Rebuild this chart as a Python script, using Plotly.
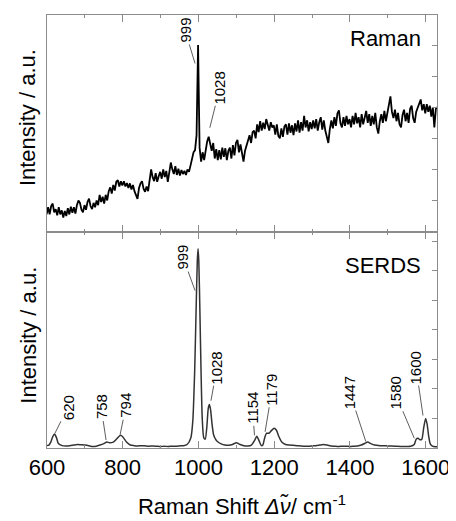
import numpy as np
import plotly.graph_objects as go
from plotly.subplots import make_subplots

raman_shift = list(range(599, 1632, 4))
raman_int = [
    0.55, 0.78, 0.55, 0.82, 0.90, 0.62, 0.72, 0.52, 0.78, 0.55, 0.68, 0.45, 0.66,
    0.50, 0.75, 0.55, 0.80, 0.60, 0.78, 0.58, 0.85, 1.00, 0.92, 0.70, 0.62,
    0.85, 0.70, 0.95, 1.06, 0.82, 0.72, 0.92, 0.78, 1.00, 0.85, 1.18, 0.95, 1.12,
    0.90, 1.18, 1.00, 1.30, 1.42, 1.22, 1.50, 1.32, 1.60, 1.65, 1.45, 1.62,
    1.48, 1.62, 1.45, 1.56, 1.40, 1.55, 1.35, 1.50, 1.30, 1.18, 1.05, 1.40, 1.55,
    1.62, 1.38, 1.28, 1.45, 1.30, 1.75, 2.00, 1.75, 1.62, 1.88, 1.60, 1.78,
    1.92, 1.70, 2.00, 1.75, 1.95, 1.60, 1.85, 2.22, 2.00, 1.85, 2.10, 1.82, 2.02,
    1.80, 1.98, 1.85, 1.95, 1.82, 2.00, 1.92, 2.12, 2.30, 2.55, 2.62, 3.10,
    6.00, 2.70, 2.25, 2.55, 2.30, 2.65, 2.90, 3.05, 2.80, 2.60, 2.85, 2.35, 2.65,
    2.30, 2.62, 2.32, 2.70, 2.40, 2.68, 2.30, 2.60, 2.70, 2.35, 2.78, 2.45,
    2.85, 2.95, 2.55, 2.80, 2.45, 2.25, 2.60, 2.75, 2.95, 3.10, 2.85, 3.20, 3.25,
    3.00, 3.45, 3.20, 3.55, 3.25, 3.50, 3.30, 3.62, 3.45, 3.25, 3.52, 3.35,
    3.42, 3.12, 3.45, 3.08, 3.00, 3.32, 3.05, 3.38, 3.45, 3.12, 3.48, 3.18, 3.42,
    3.10, 3.48, 3.22, 3.58, 3.18, 3.52, 3.25, 3.72, 3.35, 3.58, 3.22, 3.52,
    3.30, 3.58, 3.32, 3.62, 3.25, 3.52, 3.68, 3.28, 3.58, 3.25, 3.05, 2.85, 3.30,
    3.58, 3.32, 3.68, 3.40, 3.80, 3.90, 3.48, 3.35, 3.68, 3.40, 3.72, 3.45,
    3.62, 3.35, 3.72, 3.45, 3.82, 3.48, 3.68, 3.35, 3.78, 3.45, 3.72, 3.88, 3.50,
    3.78, 3.40, 3.72, 3.45, 3.82, 3.35, 3.15, 3.55, 3.78, 3.50, 3.88, 3.55,
    3.82, 4.05, 4.35, 3.85, 3.65, 3.92, 3.55, 3.82, 3.45, 3.35, 3.75, 3.92, 3.55,
    3.82, 3.50, 3.95, 4.05, 3.65, 3.50, 3.85, 4.00, 4.15, 4.25, 3.90, 4.10,
    3.80, 4.10, 3.85, 4.05, 3.70, 4.00, 3.35, 3.95, 4.00,
]

# SERDS spectrum
serds_shift = [
    600, 605, 610, 615, 620, 625, 630, 640, 650, 660, 670, 680, 690, 700, 710,
    720, 730, 740, 750, 758, 765, 775, 785, 794, 800, 810, 820, 830, 840, 850,
    860, 870, 880, 890, 900, 910, 920, 930, 940, 950, 960, 970, 980, 985, 990,
    994, 997, 999, 1001, 1004, 1007, 1010, 1014, 1018, 1022, 1026, 1029, 1032,
    1036, 1040, 1045, 1050, 1060, 1070, 1080, 1090, 1100, 1110, 1120, 1130,
    1140, 1148, 1154, 1160, 1166, 1170, 1175, 1180, 1186, 1192, 1200, 1206,
    1212, 1220, 1230, 1240, 1250, 1260, 1270, 1280, 1290, 1300, 1310, 1320,
    1330, 1340, 1350, 1360, 1370, 1380, 1390, 1400, 1410, 1420, 1430, 1440,
    1447, 1455, 1465, 1480, 1500, 1520, 1540, 1560, 1570, 1575, 1580, 1585,
    1590, 1595, 1600, 1604, 1608, 1612, 1618, 1625, 1630,
]
serds_int = [
    0.08, 0.10, 0.20, 0.38, 0.47, 0.35, 0.15, 0.08, 0.07, 0.08, 0.10, 0.12, 0.11,
    0.10, 0.08, 0.05, 0.06, 0.10, 0.15, 0.20, 0.18, 0.20, 0.32, 0.43, 0.38, 0.20,
    0.10, 0.08, 0.07, 0.08, 0.07, 0.06, 0.07, 0.06, 0.05, 0.06, 0.05, 0.06, 0.06,
    0.07, 0.08, 0.12, 0.35, 0.90, 2.60, 4.80, 6.35, 6.75, 6.30, 4.50, 2.50, 1.00,
    0.35, 0.30, 0.70, 1.35, 1.47, 1.30, 0.80, 0.45, 0.30, 0.22, 0.14, 0.10, 0.09,
    0.12, 0.18, 0.12, 0.08, 0.07, 0.10, 0.25, 0.40, 0.25, 0.08, 0.10, 0.35, 0.50,
    0.50, 0.58, 0.67, 0.60, 0.40, 0.20, 0.12, 0.10, 0.09, 0.08, 0.07, 0.06, 0.06,
    0.07, 0.08, 0.10, 0.12, 0.10, 0.07, 0.06, 0.05, 0.06, 0.06, 0.05, 0.06, 0.07,
    0.10, 0.16, 0.20, 0.15, 0.10, 0.08, 0.07, 0.06, 0.05, 0.06, 0.12, 0.30, 0.33,
    0.28, 0.30, 0.70, 1.00, 0.80, 0.40, 0.15, 0.06, 0.04, 0.04,
]

# peak labels: text, leader tip (shift, intensity), text offset in px
raman_labels = ["999", "1028"]
raman_tips = [(991, 5.41), (1030, 3.34)]
raman_offsets = [(-10, -33), (10, -40)]

serds_labels = ["999", "620", "758", "794", "1028", "1154", "1179", "1447", "1580", "1600"]
serds_tips = [(991, 5.33), (621, 0.5), (756, 0.27), (793, 0.45), (1033, 1.6),
              (1148, 0.43), (1176, 0.55), (1442, 0.22), (1570, 0.33), (1593, 1.1)]
serds_offsets = [(-12, -33), (13, -26), (-5, -33), (6, -29), (6, -33),
                 (-2, -27), (7, -42), (-16, -49), (-19, -45), (-7, -48)]

FONT = "Liberation Sans, Arial, sans-serif"
AXIS_GRAY = "#8c8c8c"

fig = make_subplots(rows=2, cols=1, shared_xaxes=True, vertical_spacing=0)

fig.add_trace(go.Scatter(x=raman_shift, y=raman_int, mode="lines",
                         line=dict(color="black", width=1.8), showlegend=False),
              row=1, col=1)
fig.add_trace(go.Scatter(x=serds_shift, y=serds_int, mode="lines",
                         line=dict(color="#333333", width=1.5, shape="spline", smoothing=0.6),
                         showlegend=False),
              row=2, col=1)

xaxis_style = dict(
    range=[600, 1630], tick0=600, dtick=200, ticks="inside", ticklen=7,
    tickcolor=AXIS_GRAY, showline=True, linecolor=AXIS_GRAY, linewidth=1,
    mirror="ticks", showgrid=False, zeroline=False,
    minor=dict(ticks="inside", ticklen=3, dtick=100, tickcolor=AXIS_GRAY),
    tickfont=dict(family=FONT, size=22, color="black"),
)
fig.update_xaxes(**xaxis_style)
fig.update_xaxes(showticklabels=False, row=1, col=1)
fig.update_xaxes(
    title=dict(text="Raman Shift <i>Δν̃</i>/ cm<sup>-1</sup>",
               font=dict(family=FONT, size=22, color="black"), standoff=19),
    row=2, col=1)

yaxis_style = dict(
    side="right", ticks="inside", ticklen=5, dtick=1, tickcolor=AXIS_GRAY,
    showticklabels=False, showline=True, linecolor=AXIS_GRAY, linewidth=1,
    mirror=True, showgrid=False, zeroline=False,
)
fig.update_yaxes(**yaxis_style)
fig.update_yaxes(range=[0, 6.97], row=1, col=1)
fig.update_yaxes(range=[0, 7.33], row=2, col=1)

annotations = []
for yref, ycen in [("y domain", 0.525), ("y2 domain", 0.52)]:
    annotations.append(dict(
        text="Intensity / a.u.", xref="paper", yref=yref, x=-0.048, y=ycen,
        xanchor="center", yanchor="middle", textangle=-90, showarrow=False,
        font=dict(family=FONT, size=22, color="black")))

annotations.append(dict(text="Raman", xref="x domain", yref="y domain", x=0.963, y=0.89,
                        xanchor="right", yanchor="middle", showarrow=False,
                        font=dict(family=FONT, size=22, color="black")))
annotations.append(dict(text="SERDS", xref="x domain", yref="y2 domain", x=0.963, y=0.845,
                        xanchor="right", yanchor="middle", showarrow=False,
                        font=dict(family=FONT, size=22, color="black")))

for labels, tips, offsets, yref in [(raman_labels, raman_tips, raman_offsets, "y"),
                                    (serds_labels, serds_tips, serds_offsets, "y2")]:
    for txt, (tx, ty), (ox, oy) in zip(labels, tips, offsets):
        annotations.append(dict(
            text=txt, x=tx, y=ty, xref="x", yref=yref, ax=ox, ay=oy,
            showarrow=True, arrowhead=0, arrowwidth=0.8, arrowcolor="#333333",
            standoff=0, textangle=-90,
            font=dict(family=FONT, size=15, color="black")))

# the page body has an 8 px margin, so the figure is shrunk by 8 px to fit the window
fig.update_layout(
    width=448, height=513,
    margin=dict(l=39, r=14, t=6, b=68),
    paper_bgcolor="white", plot_bgcolor="white",
    annotations=annotations,
)

fig.write_html("out.html")
